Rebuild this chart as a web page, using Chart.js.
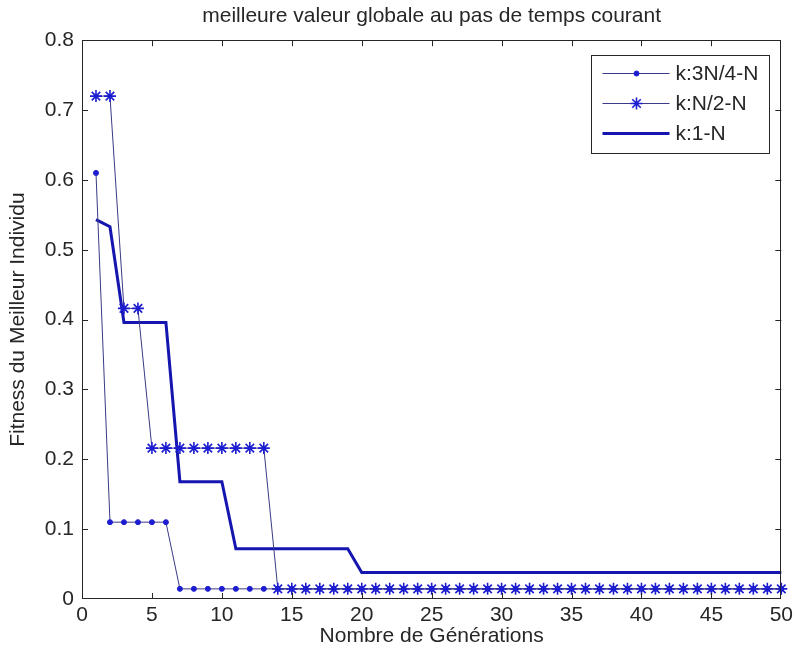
<!DOCTYPE html>
<html>
<head>
<meta charset="utf-8">
<script src="https://cdn.jsdelivr.net/npm/chart.js@4.4.0/dist/chart.umd.min.js"></script>
<style>
  html, body { margin: 0; padding: 0; background: #fff; }
</style>
</head>
<body>
<canvas id="myChart" width="797" height="656"></canvas>
<script>
// Numéros de génération
const generations = [1, 2, 3, 4, 5, 6, 7, 8, 9, 10,
  11, 12, 13, 14, 15, 16, 17, 18, 19, 20,
  21, 22, 23, 24, 25, 26, 27, 28, 29, 30,
  31, 32, 33, 34, 35, 36, 37, 38, 39, 40,
  41, 42, 43, 44, 45, 46, 47, 48, 49, 50];

// Fitness du meilleur individu pour chaque variante
const fitness3N4 = [0.61, 0.11, 0.11, 0.11, 0.11, 0.11, 0.0145, 0.0145, 0.0145, 0.0145,
  0.0145, 0.0145, 0.0145, 0.0145, 0.0145, 0.0145, 0.0145, 0.0145, 0.0145, 0.0145,
  0.0145, 0.0145, 0.0145, 0.0145, 0.0145, 0.0145, 0.0145, 0.0145, 0.0145, 0.0145,
  0.0145, 0.0145, 0.0145, 0.0145, 0.0145, 0.0145, 0.0145, 0.0145, 0.0145, 0.0145,
  0.0145, 0.0145, 0.0145, 0.0145, 0.0145, 0.0145, 0.0145, 0.0145, 0.0145, 0.0145];
const fitnessN2 = [0.72, 0.72, 0.416, 0.416, 0.216, 0.216, 0.216, 0.216, 0.216, 0.216,
  0.216, 0.216, 0.216, 0.0145, 0.0145, 0.0145, 0.0145, 0.0145, 0.0145, 0.0145,
  0.0145, 0.0145, 0.0145, 0.0145, 0.0145, 0.0145, 0.0145, 0.0145, 0.0145, 0.0145,
  0.0145, 0.0145, 0.0145, 0.0145, 0.0145, 0.0145, 0.0145, 0.0145, 0.0145, 0.0145,
  0.0145, 0.0145, 0.0145, 0.0145, 0.0145, 0.0145, 0.0145, 0.0145, 0.0145, 0.0145];
const fitness1N = [0.543, 0.533, 0.396, 0.396, 0.396, 0.396, 0.168, 0.168, 0.168, 0.168,
  0.072, 0.072, 0.072, 0.072, 0.072, 0.072, 0.072, 0.072, 0.072, 0.038,
  0.038, 0.038, 0.038, 0.038, 0.038, 0.038, 0.038, 0.038, 0.038, 0.038,
  0.038, 0.038, 0.038, 0.038, 0.038, 0.038, 0.038, 0.038, 0.038, 0.038,
  0.038, 0.038, 0.038, 0.038, 0.038, 0.038, 0.038, 0.038, 0.038, 0.038];

const seriesLabels = ['k:3N/4-N', 'k:N/2-N', 'k:1-N'];

// Graduations des axes
const xTicks = [0, 5, 10, 15, 20, 25, 30, 35, 40, 45, 50];
const yTicks = [0, 0.1, 0.2, 0.3, 0.4, 0.5, 0.6, 0.7, 0.8];
const yTickLabels = ['0', '0.1', '0.2', '0.3', '0.4', '0.5', '0.6', '0.7', '0.8'];

const police = 'Liberation Sans, Arial, Helvetica, sans-serif';
const taille = 21;
const encre = '#262626';
const bleu = '#1c1cd0';
const bleuFin = '#3a3a86';
const bleuEpais = '#1515b0';

const points = vals => generations.map((g, i) => ({ x: g, y: vals[i] }));

// Cadre fermé avec graduations vers l'intérieur, façon MATLAB
const cadre = {
  id: 'cadre',
  afterDatasetsDraw(chart) {
    const { ctx, chartArea: a, scales: { x, y } } = chart;
    const L = 6;
    ctx.save();
    ctx.strokeStyle = encre;
    ctx.lineWidth = 1;
    ctx.strokeRect(Math.round(a.left) + 0.5, Math.round(a.top) + 0.5,
      Math.round(a.width) - 1, Math.round(a.height) - 1);
    ctx.beginPath();
    xTicks.slice(1, -1).forEach(v => {
      const px = Math.round(x.getPixelForValue(v)) + 0.5;
      ctx.moveTo(px, a.bottom); ctx.lineTo(px, a.bottom - L);
      ctx.moveTo(px, a.top); ctx.lineTo(px, a.top + L);
    });
    yTicks.slice(1, -1).forEach(v => {
      const py = Math.round(y.getPixelForValue(v)) + 0.5;
      ctx.moveTo(a.left, py); ctx.lineTo(a.left + L, py);
      ctx.moveTo(a.right, py); ctx.lineTo(a.right - L, py);
    });
    ctx.stroke();
    ctx.restore();
  }
};

// Légende encadrée en haut à droite
const legendeBoite = {
  id: 'legendeBoite',
  afterDraw(chart) {
    const { ctx, chartArea: a } = chart;
    const w = 178, h = 98;
    const bx = Math.round(a.right - 12 - w) + 0.5;
    const by = Math.round(a.top + 15) + 0.5;
    ctx.save();
    ctx.fillStyle = '#fff';
    ctx.fillRect(bx, by, w, h);
    ctx.strokeStyle = encre;
    ctx.lineWidth = 1;
    ctx.strokeRect(bx, by, w, h);
    ctx.font = taille + 'px ' + police;
    ctx.textBaseline = 'middle';
    chart.data.datasets.forEach((ds, i) => {
      const cy = by + 18 + i * 30;
      ctx.strokeStyle = ds.borderColor;
      ctx.lineWidth = ds.borderWidth;
      ctx.beginPath();
      ctx.moveTo(bx + 11, cy);
      ctx.lineTo(bx + 78, cy);
      ctx.stroke();
      if (ds.pointRadius > 0) {
        ctx.fillStyle = ds.pointBackgroundColor;
        ctx.strokeStyle = ds.pointBorderColor;
        ctx.lineWidth = ds.pointBorderWidth;
        Chart.helpers.drawPoint(ctx, {
          pointStyle: ds.pointStyle, radius: ds.pointRadius,
          borderWidth: ds.pointBorderWidth, rotation: 0
        }, bx + 45, cy);
      }
      ctx.fillStyle = encre;
      ctx.fillText(ds.label, bx + 84, cy + 1);
    });
    ctx.restore();
  }
};

const data = {
  datasets: [{
    label: seriesLabels[0],
    data: points(fitness3N4),
    borderColor: bleuFin,
    borderWidth: 1,
    pointStyle: 'circle',
    pointRadius: 2.5,
    pointBackgroundColor: bleu,
    pointBorderColor: bleu,
    pointBorderWidth: 1
  }, {
    label: seriesLabels[1],
    data: points(fitnessN2),
    borderColor: bleuFin,
    borderWidth: 1,
    pointStyle: 'star',
    pointRadius: 6,
    pointBackgroundColor: bleu,
    pointBorderColor: bleu,
    pointBorderWidth: 1.6
  }, {
    label: seriesLabels[2],
    data: points(fitness1N),
    borderColor: bleuEpais,
    borderWidth: 3,
    pointRadius: 0
  }]
};

const config = {
  type: 'line',
  data: data,
  plugins: [cadre, legendeBoite],
  options: {
    responsive: false,
    animation: false,
    events: [],
    layout: { padding: { left: 0, right: 15, top: 0, bottom: 0 } },
    elements: { line: { tension: 0 } },
    datasets: { line: { clip: false } },
    plugins: {
      legend: { display: false },
      tooltip: { enabled: false },
      title: {
        display: true,
        fullSize: false,
        text: 'meilleure valeur globale au pas de temps courant',
        color: encre,
        font: { family: police, size: taille, weight: 'normal', lineHeight: 1.2 },
        padding: { top: 4, bottom: 11 }
      }
    },
    scales: {
      x: {
        type: 'linear',
        min: 0,
        max: 50,
        afterBuildTicks: s => { s.ticks = xTicks.map(v => ({ value: v })); },
        afterFit: s => { s.height = 57; },
        grid: { display: false, drawTicks: false },
        border: { display: false },
        ticks: {
          color: encre,
          padding: 4,
          maxRotation: 0,
          font: { family: police, size: taille, lineHeight: 1.2 }
        },
        title: {
          display: true,
          text: 'Nombre de Générations',
          color: encre,
          font: { family: police, size: taille, lineHeight: 1.2 },
          padding: { top: 0, bottom: 7 }
        }
      },
      y: {
        type: 'linear',
        min: 0,
        max: 0.8,
        afterBuildTicks: s => { s.ticks = yTicks.map(v => ({ value: v })); },
        afterFit: s => { s.width = 82; },
        grid: { display: false, drawTicks: false },
        border: { display: false },
        ticks: {
          color: encre,
          padding: 8,
          font: { family: police, size: taille, lineHeight: 1.2 },
          callback: (v, i) => yTickLabels[i]
        },
        title: {
          display: true,
          text: 'Fitness du Meilleur Individu',
          color: encre,
          font: { family: police, size: taille, lineHeight: 1.2 },
          padding: { top: 6, bottom: 0 }
        }
      }
    }
  }
};

var myChart = new Chart(document.getElementById('myChart'), config);
</script>
</body>
</html>
